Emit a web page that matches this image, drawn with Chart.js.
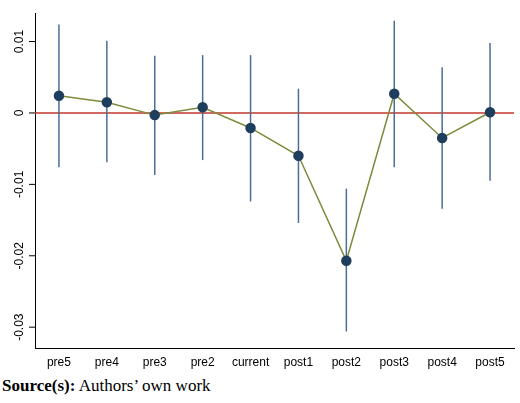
<!DOCTYPE html>
<html><head><script src="https://cdn.jsdelivr.net/npm/chart.js@4"></script>
<style>body{margin:0;background:#fff;width:520px;height:403px;overflow:hidden}
#w{position:relative;width:520px;height:372px}
#src{position:absolute;left:2px;top:376px;font-family:"Liberation Serif",serif;font-size:17px;color:#000}</style></head>
<body><div id="w"><canvas id="c"></canvas></div>
<div id="src"><b>Source(s):</b> Authors’ own work</div>
<script>
const categories=["pre5","pre4","pre3","pre2","current","post1","post2","post3","post4","post5"];
const estimates=[0.0024,0.0015,-0.0003,0.0008,-0.0021,-0.006,-0.0207,0.0027,-0.0035,0.0001];
const ciUpper=[0.0124,0.0101,0.008,0.0081,0.0081,0.0034,-0.0106,0.0129,0.0064,0.0098];
const ciLower=[-0.0076,-0.0069,-0.0087,-0.0066,-0.0124,-0.0154,-0.0306,-0.0076,-0.0134,-0.0095];
const yTicks=[0.01,0,-0.01,-0.02,-0.03];
const yTickLabels=["0.01","0","-0.01","-0.02","-0.03"];
const pl={id:'pl',beforeDatasetsDraw(ch){const c=ch.ctx,x=ch.scales.x,y=ch.scales.y,a=ch.chartArea;
c.save();c.strokeStyle='#c0392b';c.lineWidth=1.5;c.beginPath();c.moveTo(a.left,y.getPixelForValue(0));c.lineTo(a.right,y.getPixelForValue(0));c.stroke();
c.strokeStyle='#4d6d96';c.lineWidth=1.5;
categories.forEach((k,i)=>{const px=x.getPixelForValue(i);c.beginPath();c.moveTo(px,y.getPixelForValue(ciUpper[i]));c.lineTo(px,y.getPixelForValue(ciLower[i]));c.stroke();});
c.strokeStyle='#000';c.lineWidth=1;c.fillStyle='#000';c.font='12px "Liberation Sans",Arial';c.textAlign='center';c.textBaseline='bottom';
yTicks.forEach((v,i)=>{const py=y.getPixelForValue(v);c.beginPath();c.moveTo(a.left-6,py);c.lineTo(a.left,py);c.stroke();
c.save();c.translate(a.left-9,py);c.rotate(-Math.PI/2);c.fillText(yTickLabels[i],0,0);c.restore();});
c.restore();}};
new Chart(document.getElementById('c'),{type:'line',data:{labels:categories,datasets:[{data:estimates,borderColor:'#7d8c3c',borderWidth:1.5,pointBackgroundColor:'#1f3d5c',pointBorderColor:'#1f3d5c',pointRadius:4.5,tension:0}]},
options:{responsive:true,maintainAspectRatio:false,animation:false,layout:{padding:{left:35,right:5,top:13}},
plugins:{legend:{display:false},tooltip:{enabled:false}},
scales:{x:{offset:true,grid:{display:false,drawTicks:true,tickLength:5},border:{color:'#000'},ticks:{color:'#000',font:{size:12,family:'"Liberation Sans",Arial'},padding:2}},
y:{min:-0.033,max:0.014,afterBuildTicks(s){s.ticks=yTicks.map(v=>({value:v}));},grid:{display:false,drawTicks:false},border:{color:'#000'},ticks:{display:false}}}},
plugins:[pl]});
</script></body></html>
